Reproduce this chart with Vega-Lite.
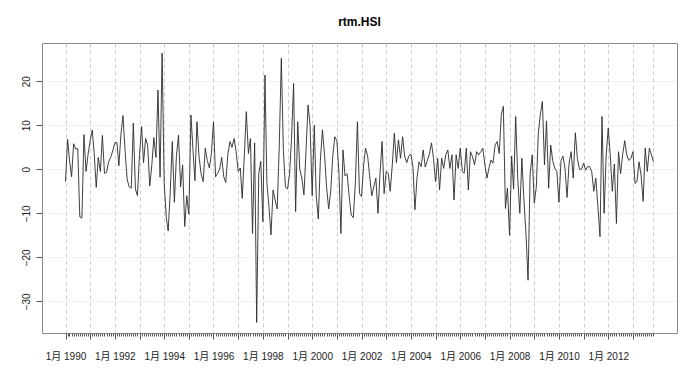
{
  "$schema": "https://vega.github.io/schema/vega-lite/v6.json",
  "autosize": "none",
  "width": 635,
  "height": 290,
  "padding": {"left": 42, "top": 43, "right": 13, "bottom": 51},
  "background": "white",
  "config": {"view": {"stroke": "#8a8a8a", "strokeWidth": 1}, "font": "Liberation Sans"},
  "title": {"text": "rtm.HSI", "fontSize": 12, "fontWeight": "bold", "font": "Liberation Sans", "anchor": "middle", "offset": 14, "color": "#000"},
  "data": {"values": [
{"m":"1990-01","r":-2.8},{"m":"1990-02","r":6.8},{"m":"1990-03","r":2.1},{"m":"1990-04","r":-1.7},{"m":"1990-05","r":5.8},{"m":"1990-06","r":4.6},{"m":"1990-07","r":4.7},{"m":"1990-08","r":-10.8},{"m":"1990-09","r":-11.1},{"m":"1990-10","r":7.9},{"m":"1990-11","r":-0.5},{"m":"1990-12","r":3.4},
{"m":"1991-01","r":6.5},{"m":"1991-02","r":8.9},{"m":"1991-03","r":3.8},{"m":"1991-04","r":-4.1},{"m":"1991-05","r":2.7},{"m":"1991-06","r":-0.5},{"m":"1991-07","r":7.7},{"m":"1991-08","r":-0.9},{"m":"1991-09","r":-0.7},{"m":"1991-10","r":1.7},{"m":"1991-11","r":2.7},{"m":"1991-12","r":4.2},
{"m":"1992-01","r":6.0},{"m":"1992-02","r":6.1},{"m":"1992-03","r":0.8},{"m":"1992-04","r":8.0},{"m":"1992-05","r":12.2},{"m":"1992-06","r":4.2},{"m":"1992-07","r":-2.2},{"m":"1992-08","r":-4.0},{"m":"1992-09","r":-4.3},{"m":"1992-10","r":10.5},{"m":"1992-11","r":-4.5},{"m":"1992-12","r":-6.0},
{"m":"1993-01","r":3.5},{"m":"1993-02","r":9.7},{"m":"1993-03","r":1.5},{"m":"1993-04","r":7.0},{"m":"1993-05","r":5.5},{"m":"1993-06","r":-3.8},{"m":"1993-07","r":0.8},{"m":"1993-08","r":7.2},{"m":"1993-09","r":2.7},{"m":"1993-10","r":18.0},{"m":"1993-11","r":-1.8},{"m":"1993-12","r":26.4},
{"m":"1994-01","r":-3.0},{"m":"1994-02","r":-11.0},{"m":"1994-03","r":-14.0},{"m":"1994-04","r":-5.0},{"m":"1994-05","r":6.3},{"m":"1994-06","r":-7.5},{"m":"1994-07","r":3.0},{"m":"1994-08","r":7.8},{"m":"1994-09","r":-4.0},{"m":"1994-10","r":1.0},{"m":"1994-11","r":-13.0},{"m":"1994-12","r":-6.0},
{"m":"1995-01","r":-10.2},{"m":"1995-02","r":12.3},{"m":"1995-03","r":5.0},{"m":"1995-04","r":-2.6},{"m":"1995-05","r":10.8},{"m":"1995-06","r":2.9},{"m":"1995-07","r":-1.0},{"m":"1995-08","r":-2.8},{"m":"1995-09","r":4.8},{"m":"1995-10","r":2.0},{"m":"1995-11","r":0.3},{"m":"1995-12","r":3.6},
{"m":"1996-01","r":10.8},{"m":"1996-02","r":-1.7},{"m":"1996-03","r":-0.9},{"m":"1996-04","r":0.0},{"m":"1996-05","r":2.7},{"m":"1996-06","r":-1.7},{"m":"1996-07","r":-3.0},{"m":"1996-08","r":3.5},{"m":"1996-09","r":6.3},{"m":"1996-10","r":5.0},{"m":"1996-11","r":7.0},{"m":"1996-12","r":4.0},
{"m":"1997-01","r":-0.5},{"m":"1997-02","r":0.3},{"m":"1997-03","r":-6.6},{"m":"1997-04","r":3.0},{"m":"1997-05","r":13.1},{"m":"1997-06","r":3.6},{"m":"1997-07","r":7.0},{"m":"1997-08","r":-14.6},{"m":"1997-09","r":6.0},{"m":"1997-10","r":-34.8},{"m":"1997-11","r":-0.9},{"m":"1997-12","r":1.8},
{"m":"1998-01","r":-11.9},{"m":"1998-02","r":21.4},{"m":"1998-03","r":-3.0},{"m":"1998-04","r":-8.5},{"m":"1998-05","r":-14.9},{"m":"1998-06","r":-4.7},{"m":"1998-07","r":-7.0},{"m":"1998-08","r":-9.0},{"m":"1998-09","r":5.5},{"m":"1998-10","r":25.2},{"m":"1998-11","r":4.0},{"m":"1998-12","r":-4.0},
{"m":"1999-01","r":-4.5},{"m":"1999-02","r":-1.0},{"m":"1999-03","r":7.0},{"m":"1999-04","r":19.5},{"m":"1999-05","r":-9.6},{"m":"1999-06","r":10.8},{"m":"1999-07","r":0.0},{"m":"1999-08","r":-2.0},{"m":"1999-09","r":-5.8},{"m":"1999-10","r":4.0},{"m":"1999-11","r":14.6},{"m":"1999-12","r":10.0},
{"m":"2000-01","r":-6.0},{"m":"2000-02","r":10.0},{"m":"2000-03","r":-6.0},{"m":"2000-04","r":-11.3},{"m":"2000-05","r":2.0},{"m":"2000-06","r":9.0},{"m":"2000-07","r":3.5},{"m":"2000-08","r":-4.0},{"m":"2000-09","r":-9.0},{"m":"2000-10","r":-5.0},{"m":"2000-11","r":3.0},{"m":"2000-12","r":7.4},
{"m":"2001-01","r":6.5},{"m":"2001-02","r":-1.0},{"m":"2001-03","r":-14.6},{"m":"2001-04","r":4.4},{"m":"2001-05","r":-1.5},{"m":"2001-06","r":-1.0},{"m":"2001-07","r":-6.0},{"m":"2001-08","r":-10.4},{"m":"2001-09","r":-11.0},{"m":"2001-10","r":-3.0},{"m":"2001-11","r":10.8},{"m":"2001-12","r":-5.5},
{"m":"2002-01","r":-6.2},{"m":"2002-02","r":1.0},{"m":"2002-03","r":4.8},{"m":"2002-04","r":3.0},{"m":"2002-05","r":-1.5},{"m":"2002-06","r":-6.0},{"m":"2002-07","r":-4.0},{"m":"2002-08","r":-2.0},{"m":"2002-09","r":-10.0},{"m":"2002-10","r":-1.0},{"m":"2002-11","r":6.3},{"m":"2002-12","r":-5.5},
{"m":"2003-01","r":-0.5},{"m":"2003-02","r":-1.0},{"m":"2003-03","r":-5.0},{"m":"2003-04","r":1.0},{"m":"2003-05","r":8.2},{"m":"2003-06","r":1.5},{"m":"2003-07","r":6.7},{"m":"2003-08","r":2.5},{"m":"2003-09","r":7.4},{"m":"2003-10","r":3.0},{"m":"2003-11","r":1.5},{"m":"2003-12","r":3.0},
{"m":"2004-01","r":3.5},{"m":"2004-02","r":0.5},{"m":"2004-03","r":-9.2},{"m":"2004-04","r":-2.0},{"m":"2004-05","r":1.7},{"m":"2004-06","r":0.6},{"m":"2004-07","r":4.4},{"m":"2004-08","r":0.5},{"m":"2004-09","r":2.0},{"m":"2004-10","r":3.5},{"m":"2004-11","r":6.0},{"m":"2004-12","r":2.5},
{"m":"2005-01","r":-2.8},{"m":"2005-02","r":2.5},{"m":"2005-03","r":-4.7},{"m":"2005-04","r":2.5},{"m":"2005-05","r":0.2},{"m":"2005-06","r":3.3},{"m":"2005-07","r":4.4},{"m":"2005-08","r":0.2},{"m":"2005-09","r":3.3},{"m":"2005-10","r":-7.0},{"m":"2005-11","r":3.3},{"m":"2005-12","r":0.2},
{"m":"2006-01","r":4.8},{"m":"2006-02","r":-0.5},{"m":"2006-03","r":-0.9},{"m":"2006-04","r":4.8},{"m":"2006-05","r":-4.7},{"m":"2006-06","r":4.0},{"m":"2006-07","r":2.9},{"m":"2006-08","r":1.0},{"m":"2006-09","r":4.0},{"m":"2006-10","r":3.3},{"m":"2006-11","r":4.0},{"m":"2006-12","r":4.8},
{"m":"2007-01","r":1.0},{"m":"2007-02","r":-2.0},{"m":"2007-03","r":0.2},{"m":"2007-04","r":2.1},{"m":"2007-05","r":1.4},{"m":"2007-06","r":5.5},{"m":"2007-07","r":6.3},{"m":"2007-08","r":3.6},{"m":"2007-09","r":12.5},{"m":"2007-10","r":14.3},{"m":"2007-11","r":-8.9},{"m":"2007-12","r":-4.3},
{"m":"2008-01","r":-15.0},{"m":"2008-02","r":3.0},{"m":"2008-03","r":-4.5},{"m":"2008-04","r":12.0},{"m":"2008-05","r":-2.0},{"m":"2008-06","r":-10.0},{"m":"2008-07","r":2.5},{"m":"2008-08","r":-7.0},{"m":"2008-09","r":-15.0},{"m":"2008-10","r":-25.2},{"m":"2008-11","r":-1.0},{"m":"2008-12","r":3.3},
{"m":"2009-01","r":-7.7},{"m":"2009-02","r":-3.9},{"m":"2009-03","r":8.0},{"m":"2009-04","r":12.5},{"m":"2009-05","r":15.4},{"m":"2009-06","r":1.0},{"m":"2009-07","r":11.0},{"m":"2009-08","r":-4.3},{"m":"2009-09","r":5.5},{"m":"2009-10","r":2.0},{"m":"2009-11","r":0.2},{"m":"2009-12","r":-0.5},
{"m":"2010-01","r":-7.5},{"m":"2010-02","r":2.0},{"m":"2010-03","r":3.0},{"m":"2010-04","r":0.2},{"m":"2010-05","r":-6.4},{"m":"2010-06","r":1.5},{"m":"2010-07","r":4.0},{"m":"2010-08","r":-2.0},{"m":"2010-09","r":8.3},{"m":"2010-10","r":2.5},{"m":"2010-11","r":0.0},{"m":"2010-12","r":0.0},
{"m":"2011-01","r":1.4},{"m":"2011-02","r":-0.2},{"m":"2011-03","r":0.6},{"m":"2011-04","r":0.6},{"m":"2011-05","r":-0.5},{"m":"2011-06","r":-5.0},{"m":"2011-07","r":-2.0},{"m":"2011-08","r":-8.5},{"m":"2011-09","r":-15.3},{"m":"2011-10","r":12.0},{"m":"2011-11","r":-10.0},{"m":"2011-12","r":3.0},
{"m":"2012-01","r":9.4},{"m":"2012-02","r":3.0},{"m":"2012-03","r":-5.0},{"m":"2012-04","r":1.2},{"m":"2012-05","r":-12.3},{"m":"2012-06","r":4.0},{"m":"2012-07","r":-1.0},{"m":"2012-08","r":3.3},{"m":"2012-09","r":6.5},{"m":"2012-10","r":3.3},{"m":"2012-11","r":2.0},{"m":"2012-12","r":2.5},
{"m":"2013-01","r":4.0},{"m":"2013-02","r":-3.2},{"m":"2013-03","r":-2.8},{"m":"2013-04","r":1.7},{"m":"2013-05","r":-1.3},{"m":"2013-06","r":-7.3},{"m":"2013-07","r":4.8},{"m":"2013-08","r":-0.5},{"m":"2013-09","r":4.8},{"m":"2013-10","r":3.3},{"m":"2013-11","r":1.7}
  ]},
  "mark": {"type": "line", "color": "#2a2a2a", "strokeWidth": 0.9},
  "encoding": {
    "x": {
      "field": "m", "type": "temporal",
      "scale": {"type": "utc", "domain": [{"year": 1989, "month": 1, "date": 18, "utc": true}, {"year": 2014, "month": 10, "date": 15, "utc": true}]},
      "axis": {
        "title": null,
        "domain": false,
        "tickCount": {"interval": "month", "step": 1},
        "labelExpr": "utcmonth(datum.value) == 0 && utcyear(datum.value) % 2 == 0 && utcyear(datum.value) <= 2012 && utcyear(datum.value) >= 1990 ? '1月 ' + utcyear(datum.value) : ''",
        "labelOverlap": false,
        "labelFlush": false,
        "labelFont": "Liberation Sans, Noto Sans CJK SC",
        "labelFontSize": 10,
        "labelColor": "#222",
        "labelPadding": 12,
        "tickColor": "#555",
        "tickSize": {"condition": {"test": "utcmonth(datum.value) == 0", "value": 6}, "value": 3},
        "tickOpacity": {"condition": {"test": "time(datum.value) >= utc(1990,0,1) && time(datum.value) <= utc(2013,10,1)", "value": 1}, "value": 0},
        "grid": true,
        "gridColor": "#cfcfcf",
        "gridDash": [4, 3],
        "gridOpacity": {"condition": {"test": "(utcmonth(datum.value) == 0 && time(datum.value) >= utc(1990,0,1) && time(datum.value) <= utc(2013,10,1)) || time(datum.value) == utc(2013,10,1)", "value": 1}, "value": 0}
      }
    },
    "y": {
      "field": "r", "type": "quantitative",
      "scale": {"domain": [-37.2, 28.7], "nice": false, "zero": false},
      "axis": {
        "title": null,
        "domain": false,
        "values": [-30, -20, -10, 0, 10, 20],
        "labelAngle": -90,
        "labelAlign": "center",
        "labelBaseline": "bottom",
        "labelFontSize": 10,
        "labelColor": "#222",
        "labelPadding": 5,
        "tickSize": 6,
        "tickColor": "#555",
        "grid": true,
        "gridColor": "#d6d6d6",
        "gridDash": [1, 2]
      }
    }
  }
}
